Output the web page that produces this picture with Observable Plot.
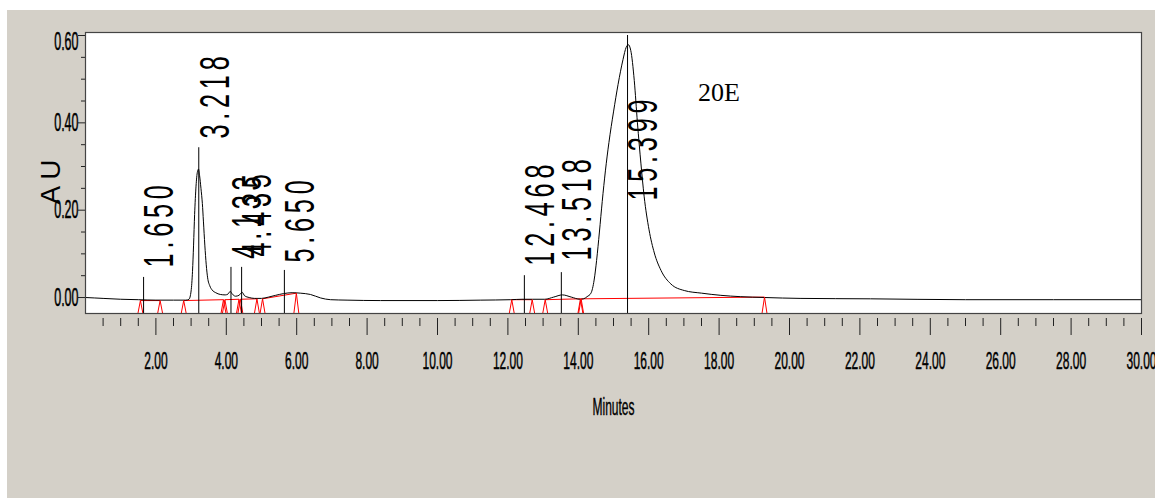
<!DOCTYPE html>
<html><head><meta charset="utf-8">
<script src="https://cdn.jsdelivr.net/npm/d3@7"></script>
<script src="https://cdn.jsdelivr.net/npm/@observablehq/plot@0.6"></script>
<style>
html,body{margin:0;padding:0;background:#fff;width:1155px;height:498px;overflow:hidden;}
#chart{position:absolute;left:7px;top:10px;width:1148px;height:488px;}
#chart svg{display:block;max-width:none;}
</style></head><body><div id="chart"></div>
<script>
// ---- chromatogram trace (minutes, AU) ----
const times  = [0.00,0.50,1.00,1.50,2.00,2.50,2.85,2.94,3.00,3.04,3.07,3.10,3.14,3.18,3.21,3.24,3.28,3.32,3.35,3.39,3.43,3.47,3.53,3.60,3.70,3.83,3.97,4.05,4.11,4.17,4.26,4.36,4.45,4.52,4.65,4.80,5.00,5.20,5.40,5.63,5.87,6.10,6.39,6.68,6.96,7.43,8.38,10.00,11.23,12.08,12.40,12.70,13.05,13.30,13.55,13.80,14.05,14.15,14.25,14.36,14.45,14.52,14.60,14.68,14.77,14.87,15.00,15.13,15.27,15.36,15.42,15.49,15.59,15.68,15.78,15.87,16.01,16.16,16.35,16.63,17.01,17.50,18.05,18.60,19.30,20.30,22.30,25.00,30.00];
const signal = [0.000,-0.002,-0.004,-0.005,-0.006,-0.006,-0.006,-0.004,0.015,0.060,0.120,0.190,0.255,0.288,0.294,0.280,0.250,0.215,0.175,0.120,0.075,0.045,0.027,0.017,0.011,0.007,0.006,0.008,0.014,0.008,0.003,0.005,0.012,0.004,0.000,-0.002,-0.002,0.001,0.005,0.009,0.011,0.010,0.007,-0.001,-0.005,-0.006,-0.007,-0.007,-0.006,-0.005,-0.004,-0.004,-0.004,0.001,0.006,0.001,-0.004,-0.003,0.002,0.010,0.040,0.085,0.150,0.220,0.290,0.355,0.425,0.488,0.545,0.573,0.579,0.566,0.497,0.400,0.306,0.232,0.155,0.102,0.062,0.031,0.016,0.010,0.005,0.002,0.000,-0.002,-0.003,-0.005,-0.005];

// ---- peaks ----
const peakTimes  = [1.650, 3.218, 4.133, 4.435, 5.650, 12.468, 13.518, 15.399];
const peakLabels = ["1.650","3.218","4.133","4.435","5.650","12.468","13.518","15.399"];
const peakMarkerTop = [0.046, 0.343, 0.069, 0.069, 0.062, 0.050, 0.057, 0.600];
const peakLabelBase = [0.069, 0.364, 0.089, 0.094, 0.080, 0.073, 0.085, 0.222];

// ---- integration baselines (start / end of each peak) ----
const intStart  = [1.56, 2.79, 3.96, 4.40, 5.03, 12.11, 13.06, 14.08];
const intStartY = [-0.007, -0.007, -0.005, -0.004, -0.003, -0.005, -0.005, -0.003];
const intEnd    = [2.12, 3.92, 4.36, 4.87, 5.99, 12.69, 14.06, 19.29];
const intEndY   = [-0.007, -0.005, -0.004, -0.003, 0.010, -0.005, -0.003, 0.001];

// ---- axes ----
const xMajorTicks = [2,4,6,8,10,12,14,16,18,20,22,24,26,28,30];
const xTickLabels = ["2.00","4.00","6.00","8.00","10.00","12.00","14.00","16.00","18.00","20.00","22.00","24.00","26.00","28.00","30.00"];
const xMinorTicks = [0.5,1,1.5,2.5,3,3.5,4.5,5,5.5,6.5,7,7.5,8.5,9,9.5,10.5,11,11.5,12.5,13,13.5,14.5,15,15.5,16.5,17,17.5,18.5,19,19.5,20.5,21,21.5,22.5,23,23.5,24.5,25,25.5,26.5,27,27.5,28.5,29,29.5];
const yMajorTicks = [0, 0.2, 0.4, 0.6];
const yTickLabels = ["0.00","0.20","0.40","0.60"];
const yMinorTicks = [0.05,0.10,0.15,0.25,0.30,0.35,0.45,0.50,0.55];
const xLabel = "Minutes";
const yLabel = "A U";
const sampleName = "20E";

// ---- layout ----
const W = 1148, H = 488, mL = 78, mR = 14, mT = 22, mB = 185;
const xDom = [0, 30], yDom = [-0.0366, 0.6069];
const pxX = (W - mL - mR) / (xDom[1] - xDom[0]);
const pxY = (H - mT - mB) / (yDom[1] - yDom[0]);
const yMin = yDom[0];

const trace = times.map((t, i) => ({t, v: signal[i]}));
const peakIdx = peakTimes.map((_, i) => i);
const tri = [];
const evT = intStart.concat(intEnd), evY = intStartY.concat(intEndY);
const half = 2.5 / pxX;
evT.forEach((t, k) => {
  tri.push({id: k, t: t - half, v: yMin});
  tri.push({id: k, t: t, v: evY[k]});
  tri.push({id: k, t: t + half, v: yMin});
});
const segs = intStart.map((s, i) => ({x1: s, y1: intStartY[i], x2: intEnd[i], y2: intEndY[i]}));
const yIdx = yMajorTicks.map((_, i) => i);
const topY = Math.max(...yMajorTicks);

const plot = Plot.plot({
  width: W, height: H,
  marginLeft: mL, marginRight: mR, marginTop: mT, marginBottom: mB,
  x: {domain: xDom, axis: null},
  y: {domain: yDom, axis: null},
  style: {background: "#D4D0C8", fontFamily: "'Liberation Sans', Arial, sans-serif", color: "#000", overflow: "visible"},
  marks: [
    Plot.frame({fill: "white", stroke: null}),
    Plot.link(segs, {x1: "x1", y1: "y1", x2: "x2", y2: "y2", stroke: "#ff0000", strokeWidth: 1}),
    Plot.line(trace, {x: "t", y: "v", stroke: "#000", strokeWidth: 1, curve: "monotone-x"}),
    Plot.line(tri, {x: "t", y: "v", z: "id", stroke: "#ff0000", strokeWidth: 1}),
    Plot.ruleX(peakIdx, {x: i => peakTimes[i], y1: () => yMin, y2: i => peakMarkerTop[i], stroke: "#000", strokeWidth: 1}),
    Plot.text(peakIdx, {x: i => peakTimes[i], y: i => peakLabelBase[i], text: i => peakLabels[i], rotate: -90, textAnchor: "start", lineAnchor: "top", fontSize: 42, fill: "#000", ariaDescription: "peak-label"}),
    Plot.text([sampleName], {x: () => 17.40, y: () => 0.451, text: d => d, textAnchor: "start", lineAnchor: "bottom", fontFamily: "'Liberation Serif', 'Times New Roman', serif", fontSize: 26, fill: "#000"}),
    Plot.ruleY(yMajorTicks, {y: d => d, x1: () => -7 / pxX, x2: () => 0, stroke: "#222", strokeWidth: 1}),
    Plot.ruleY(yMinorTicks, {y: d => d, x1: () => -4 / pxX, x2: () => 0, stroke: "#222", strokeWidth: 1}),
    Plot.text(yIdx.filter(i => yMajorTicks[i] !== topY), {y: i => yMajorTicks[i], text: i => yTickLabels[i], frameAnchor: "left", textAnchor: "end", dx: -7, fontSize: 25, fill: "#000", stroke: "#000", strokeWidth: 0.5, ariaDescription: "ytick-label"}),
    Plot.text(yIdx.filter(i => yMajorTicks[i] === topY), {y: i => yMajorTicks[i], text: i => yTickLabels[i], frameAnchor: "left", textAnchor: "end", dx: -7, dy: 6, fontSize: 25, fill: "#000", stroke: "#000", strokeWidth: 0.5, ariaDescription: "ytick-label"}),
    Plot.text([yLabel], {y: () => 0.2645, text: d => d, frameAnchor: "left", dx: -45, rotate: -90, textAnchor: "middle", lineAnchor: "top", fontSize: 28, fill: "#000"}),
    Plot.ruleX(xMajorTicks, {x: d => d, y1: () => yMin - 5 / pxY, y2: () => yMin - 22 / pxY, stroke: "#222", strokeWidth: 1}),
    Plot.ruleX(xMinorTicks, {x: d => d, y1: () => yMin - 5 / pxY, y2: () => yMin - 13 / pxY, stroke: "#222", strokeWidth: 1}),
    Plot.text(xMajorTicks, {x: d => d, text: (d, i) => xTickLabels[i], frameAnchor: "bottom", lineAnchor: "bottom", dy: 55, fontSize: 24, fill: "#000", stroke: "#000", strokeWidth: 0.5, ariaDescription: "xtick-label"}),
    Plot.text([xLabel], {x: () => 15, text: d => d, frameAnchor: "bottom", lineAnchor: "bottom", dy: 101, fontSize: 24, fill: "#000", stroke: "#000", strokeWidth: 0.4, ariaDescription: "x-label"}),
    Plot.frame({stroke: "#444", strokeWidth: 1.2})
  ]
});

// condense text horizontally (in each text's own frame), keeping Plot's positions
function condense(label, sx, spacing) {
  plot.querySelectorAll(`[aria-description="${label}"] text`).forEach(t => {
    const tr = t.getAttribute("transform") || "";
    t.setAttribute("transform", (tr + ` scale(${sx},1)`).trim());
    if (spacing) t.setAttribute("letter-spacing", spacing);
  });
}
condense("ytick-label", 0.5);
condense("xtick-label", 0.5);
condense("x-label", 0.5);
condense("peak-label", 0.6, 8);

document.getElementById("chart").appendChild(plot);
</script></body></html>
